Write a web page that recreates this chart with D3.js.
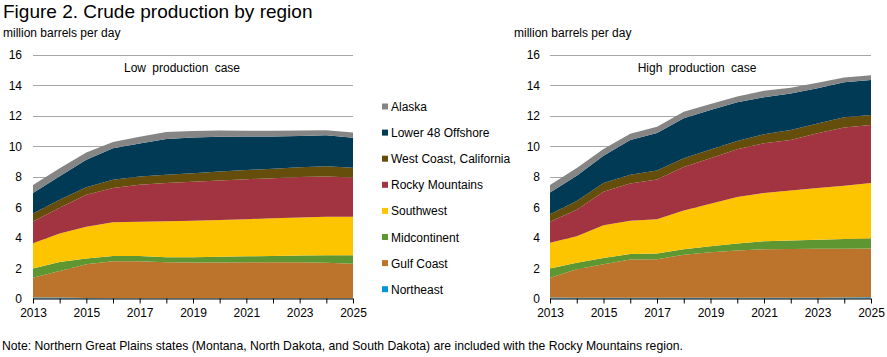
<!DOCTYPE html>
<html>
<head>
<meta charset="utf-8">
<script src="https://cdn.jsdelivr.net/npm/d3@7"></script>
<style>
  html, body { margin: 0; padding: 0; background: #fff; }
  svg { display: block; font-family: Arial, "Liberation Sans", sans-serif; }
</style>
</head>
<body>
<svg id="chart" width="887" height="357"></svg>
<script>
// ---------- data ----------
const years = [2013,2014,2015,2016,2017,2018,2019,2020,2021,2022,2023,2024,2025];
const xTickLabels = [2013,2015,2017,2019,2021,2023,2025];
const yTicks = [0,2,4,6,8,10,12,14,16];

const seriesNames = ["Northeast","Gulf Coast","Midcontinent","Southwest","Rocky Mountains","West Coast, California","Lower 48 Offshore","Alaska"];
const seriesColors = ["#0096d6","#bc732b","#5e9732","#fdc500","#a23340","#654e0c","#003a54","#858585"];

// Low production case (million barrels per day)
const lowNortheast = [0.07,0.06,0.03,0.02,0.02,0.02,0.02,0.02,0.02,0.02,0.02,0.02,0.02];
const lowGulf      = [1.29,1.74,2.22,2.43,2.42,2.36,2.34,2.34,2.35,2.36,2.35,2.32,2.26];
const lowMid       = [0.61,0.60,0.38,0.33,0.34,0.32,0.34,0.37,0.40,0.41,0.45,0.50,0.56];
const lowSouthwest = [1.65,1.86,2.07,2.22,2.26,2.37,2.40,2.41,2.43,2.47,2.49,2.52,2.52];
const lowRocky     = [1.43,1.69,2.10,2.24,2.42,2.50,2.56,2.60,2.62,2.63,2.65,2.64,2.57];
const lowWestCoast = [0.53,0.53,0.50,0.54,0.54,0.54,0.56,0.58,0.60,0.62,0.64,0.67,0.64];
const lowOffshore  = [1.33,1.54,1.80,2.07,2.17,2.35,2.34,2.28,2.20,2.12,2.05,2.04,1.97];
const lowAlaska    = [0.53,0.52,0.47,0.41,0.43,0.45,0.43,0.41,0.38,0.37,0.36,0.32,0.34];

// High production case
const highNortheast = [0.07,0.05,0.05,0.05,0.05,0.05,0.05,0.05,0.05,0.05,0.05,0.07,0.08];
const highGulf      = [1.29,1.87,2.20,2.51,2.53,2.82,2.98,3.10,3.18,3.20,3.21,3.20,3.20];
const highMid       = [0.61,0.42,0.41,0.35,0.37,0.36,0.40,0.46,0.53,0.56,0.60,0.63,0.66];
const highSouthwest = [1.68,1.75,2.15,2.19,2.24,2.54,2.78,3.04,3.16,3.28,3.39,3.50,3.63];
const highRocky     = [1.38,1.73,2.19,2.44,2.61,2.86,2.99,3.13,3.26,3.31,3.59,3.81,3.80];
const highWestCoast = [0.49,0.58,0.57,0.57,0.59,0.57,0.57,0.55,0.59,0.65,0.64,0.67,0.66];
const highOffshore  = [1.43,1.65,1.79,2.29,2.47,2.62,2.59,2.54,2.42,2.40,2.31,2.30,2.30];
const highAlaska    = [0.50,0.50,0.44,0.40,0.41,0.43,0.40,0.38,0.43,0.37,0.36,0.32,0.31];

const lowSeries  = [lowNortheast, lowGulf, lowMid, lowSouthwest, lowRocky, lowWestCoast, lowOffshore, lowAlaska];
const highSeries = [highNortheast, highGulf, highMid, highSouthwest, highRocky, highWestCoast, highOffshore, highAlaska];

// ---------- drawing ----------
const svg = d3.select("#chart");
const color = d3.scaleOrdinal().domain(seriesNames).range(seriesColors);

svg.append("text").attr("x", 3).attr("y", 18)
  .attr("font-size", 19).attr("fill", "#000")
  .text("Figure 2. Crude production by region");

function buildTable(seriesArr) {
  return years.map((yr, i) => {
    const row = { year: yr };
    seriesNames.forEach((n, k) => row[n] = seriesArr[k][i]);
    return row;
  });
}

function drawPanel(seriesArr, x0, x1, labelRight, unitsX, caseTitle, titleX) {
  const x = d3.scaleLinear().domain([2013, 2025]).range([x0, x1]);
  const y = d3.scaleLinear().domain([0, 16]).range([298.5, 54.5]);
  const g = svg.append("g");

  g.append("text").attr("x", unitsX).attr("y", 37)
    .attr("font-size", 12).attr("fill", "#000")
    .text("million barrels per day");

  // gridlines
  g.selectAll("line.grid").data(yTicks.filter(d => d > 0)).join("line")
    .attr("x1", x0).attr("x2", x1)
    .attr("y1", d => Math.round(y(d)) + 0.5).attr("y2", d => Math.round(y(d)) + 0.5)
    .attr("stroke", "#a6a6a6").attr("stroke-width", 1);

  // y labels
  g.selectAll("text.ylab").data(yTicks).join("text")
    .attr("x", labelRight).attr("y", d => y(d) + 4.5)
    .attr("text-anchor", "end").attr("font-size", 12).attr("fill", "#000")
    .text(d => d);

  // stacked areas
  const table = buildTable(seriesArr);
  const stacked = d3.stack().keys(seriesNames)(table);
  const area = d3.area()
    .x(d => x(d.data.year))
    .y0(d => y(d[0]))
    .y1(d => y(d[1]));
  g.selectAll("path.layer").data(stacked).join("path")
    .attr("d", area)
    .attr("fill", d => color(d.key));

  // case title
  g.append("text").attr("x", titleX).attr("y", 72)
    .attr("text-anchor", "middle").attr("font-size", 12).attr("fill", "#000")
    .attr("word-spacing", "3px")
    .text(caseTitle);

  // x axis
  const xAxis = d3.axisBottom(x)
    .tickValues(years).tickSize(5).tickFormat(d => xTickLabels.includes(d) ? d : "");
  const ax = g.append("g").attr("transform", "translate(0,298.5)").call(xAxis);
  ax.select(".domain").attr("stroke", "#000").attr("d", `M${x0},0.5H${x1}`);
  ax.selectAll(".tick line").attr("stroke", "#000");
  ax.selectAll(".tick text").attr("font-size", 12).attr("fill", "#000")
    .attr("font-family", "Arial, 'Liberation Sans', sans-serif").attr("y", 10);
}

drawPanel(lowSeries, 33, 353, 22, 3, "Low production case", 182);
drawPanel(highSeries, 550, 871, 540, 514, "High production case", 697);

// legend
const legendOrder = seriesNames.slice().reverse();
const lg = svg.append("g");
legendOrder.forEach((n, i) => {
  const yy = 106.5 + i * 26.1;
  lg.append("rect").attr("x", 382).attr("y", yy - 3).attr("width", 6).attr("height", 6)
    .attr("fill", color(n));
  lg.append("text").attr("x", 391).attr("y", yy + 4.5)
    .attr("font-size", 12).attr("fill", "#000").text(n);
});

// note
svg.append("text").attr("x", 2).attr("y", 350)
  .attr("font-size", 12.2).attr("fill", "#000")
  .text("Note: Northern Great Plains states (Montana, North Dakota, and South Dakota) are included with the Rocky Mountains region.");
</script>
</body>
</html>
